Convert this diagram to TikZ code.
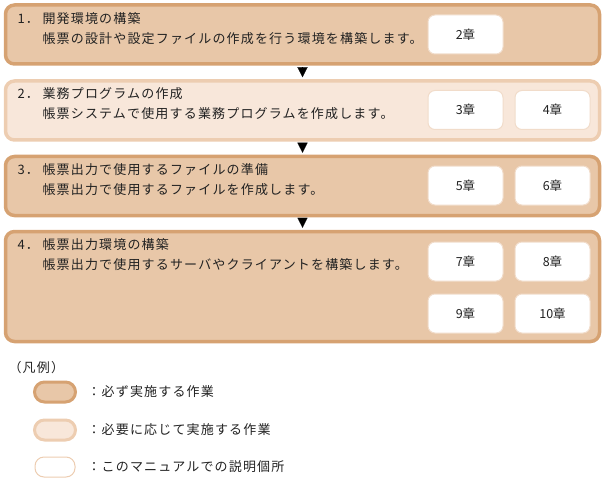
\documentclass[tikz,border=0pt]{standalone}
\usepackage{fontspec}
\usetikzlibrary{arrows.meta,positioning}
\newfontfamily\jp[LetterSpace=9]{Noto Sans CJK JP}
\newfontfamily\jpn{Noto Sans CJK JP}
\definecolor{darkfill}{HTML}{E8C7A8}
\definecolor{darkline}{HTML}{D6A272}
\definecolor{lightfill}{HTML}{F8E7DA}
\definecolor{lightline}{HTML}{EDCDB1}
\definecolor{chapline}{HTML}{F1DCCA}
\definecolor{txt}{HTML}{222222}
\newcommand{\stepno}[1]{\makebox[25pt][l]{#1}}

\begin{document}
\begin{tikzpicture}[x=1pt,y=-1pt,
        must/.style={draw=darkline,fill=darkfill,line width=3.5pt,rounded corners=9pt},
        maybe/.style={draw=lightline,fill=lightfill,line width=3.5pt,rounded corners=9pt},
        chap/.style={draw=chapline,fill=white,line width=1pt,rounded corners=7pt,
            minimum width=75pt,minimum height=39pt,font=\jpn\fontsize{12.5}{14}\selectfont,text=txt},
        desc/.style={anchor=north west,align=left,font=\jp\fontsize{13}{20}\selectfont,text=txt},
        flow/.style={-{Triangle[width=10pt,length=10pt]},line width=0.1pt,shorten <=3pt,shorten >=2pt}]

    \useasboundingbox (0,0) rectangle (604,481);

    % steps
    \node[must, minimum width=594pt, minimum height=59pt] (s1) at (302.5,34.5) {};
    \node[maybe, minimum width=594pt, minimum height=59pt] (s2) at (302.5,110.5) {};
    \node[must, minimum width=594pt, minimum height=59pt] (s3) at (302.5,186) {};
    \node[must, minimum width=594pt, minimum height=110pt] (s4) at (302.5,286.5) {};

    \path[flow] (s1) edge (s2);
    \path[flow] (s2) edge (s3);
    \path[flow] (s3) edge (s4);

    \node[desc] (t1) at (14,8.5) {\stepno{1．}開発環境の構築\\\stepno{}帳票の設計や設定ファイルの作成を行う環境を構築します。};
    \node[desc] (t2) at (14,84.5) {\stepno{2．}業務プログラムの作成\\\stepno{}帳票システムで使用する業務プログラムを作成します。};
    \node[desc] (t3) at (14,159.5) {\stepno{3．}帳票出力で使用するファイルの準備\\\stepno{}帳票出力で使用するファイルを作成します。};
    \node[desc] (t4) at (14,234.5) {\stepno{4．}帳票出力環境の構築\\\stepno{}帳票出力で使用するサーバやクライアントを構築します。};

    % chapters
    \node[chap] (c2) at (465.5,34.5) {2章};
    \node[chap] (c3) at (465.5,110) {3章};
    \node[chap, right=11pt of c3] (c4) {4章};
    \node[chap] (c5) at (465.5,185.5) {5章};
    \node[chap, right=11pt of c5] (c6) {6章};
    \node[chap] (c7) at (465.5,261.5) {7章};
    \node[chap, right=11pt of c7] (c8) {8章};
    \node[chap, below=12pt of c7] (c9) {9章};
    \node[chap, below=12pt of c8] (c10) {10章};

    % legend
    \node[desc] (lg) at (5,357.5) {（凡例）};
    \node[must, line width=3pt, rounded corners=10pt, minimum width=41pt, minimum height=20pt] (k1) at (55,392) {};
    \node[maybe, line width=3pt, rounded corners=10pt, minimum width=41pt, minimum height=20pt] (k2) at (55,430) {};
    \node[draw=lightline, fill=white, line width=1pt, rounded corners=9pt, minimum width=40pt, minimum height=20pt] (k3) at (55,467) {};
    \node[desc, anchor=west] (l1) at (84,392) {：必ず実施する作業};
    \node[desc, anchor=west] (l2) at (84,430) {：必要に応じて実施する作業};
    \node[desc, anchor=west] (l3) at (84,467) {：このマニュアルでの説明個所};

\end{tikzpicture}
\end{document}
